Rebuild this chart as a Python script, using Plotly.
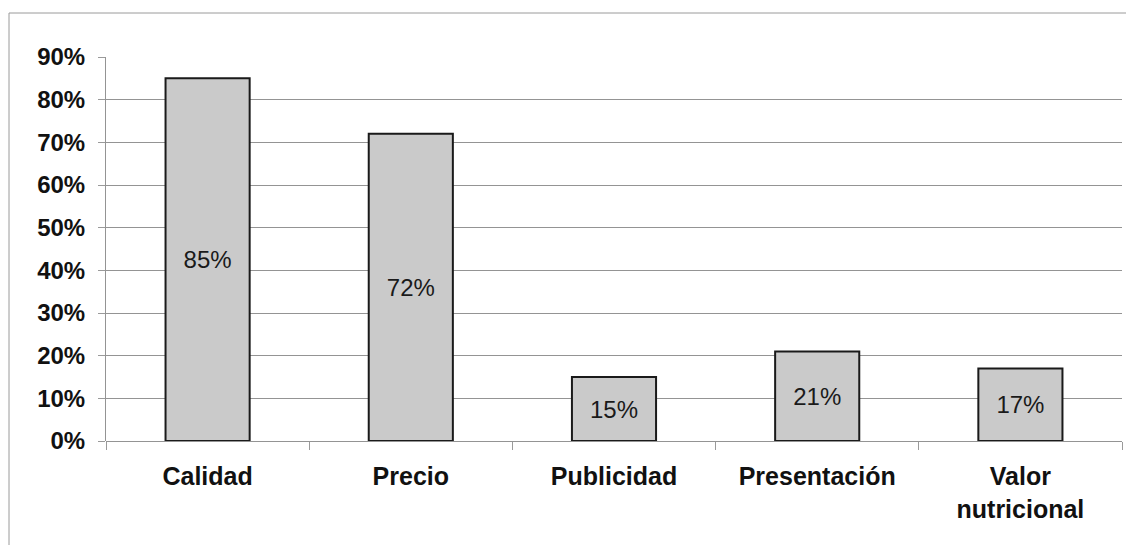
import plotly.graph_objects as go

categories = ["Calidad", "Precio", "Publicidad", "Presentación", "Valor<br>nutricional"]
values = [0.85, 0.72, 0.15, 0.21, 0.17]
labels = ["85%", "72%", "15%", "21%", "17%"]
tick_vals = [0, 0.1, 0.2, 0.3, 0.4, 0.5, 0.6, 0.7, 0.8, 0.9]
tick_text = ["0%", "10%", "20%", "30%", "40%", "50%", "60%", "70%", "80%", "90%"]

FONT = "Arial, Liberation Sans, sans-serif"

fig = go.Figure(
    go.Bar(
        x=categories,
        y=values,
        text=labels,
        textposition="inside",
        insidetextanchor="middle",
        constraintext="none",
        textangle=0,
        textfont=dict(family=FONT, size=24, color="#1a1a1a"),
        marker=dict(color="#cacaca", line=dict(color="#1a1a1a", width=2)),
        hoverinfo="skip",
    )
)

# the page body adds an 8px offset, so the figure is 8px smaller and margins compensate
fig.update_layout(
    width=1126,
    height=537,
    margin=dict(l=98, r=12, t=49, b=104),
    paper_bgcolor="white",
    plot_bgcolor="white",
    bargap=0.586,
    showlegend=False,
    xaxis=dict(
        tickson="boundaries",
        ticks="outside",
        ticklen=8,
        tickcolor="#9a9a9a",
        tickfont=dict(family=FONT, size=25, color="#111111", weight="bold"),
        ticklabelstandoff=18,
        showgrid=False,
        showline=False,
        zeroline=False,
    ),
    yaxis=dict(
        range=[0, 0.9],
        tickvals=tick_vals,
        ticktext=tick_text,
        ticks="outside",
        ticklen=7,
        tickcolor="#9a9a9a",
        tickfont=dict(family=FONT, size=24, color="#111111", weight="bold"),
        ticklabelstandoff=8,
        showgrid=True,
        gridcolor="#949494",
        gridwidth=1,
        showline=True,
        linecolor="#949494",
        linewidth=1,
        zeroline=True,
        zerolinecolor="#949494",
        zerolinewidth=1,
    ),
    shapes=[
        dict(type="line", xref="paper", yref="paper", x0=-(106 - 9) / 1016, x1=1 + 12 / 1016,
             y0=1 + (57 - 13) / 384, y1=1 + (57 - 13) / 384, line=dict(color="#9a9a9a", width=1)),
        dict(type="line", xref="paper", yref="paper", x0=-(106 - 9) / 1016, x1=-(106 - 9) / 1016,
             y0=1 + (57 - 13) / 384, y1=-104 / 384, line=dict(color="#9a9a9a", width=1)),
    ],
)

fig.write_html("out.html")
